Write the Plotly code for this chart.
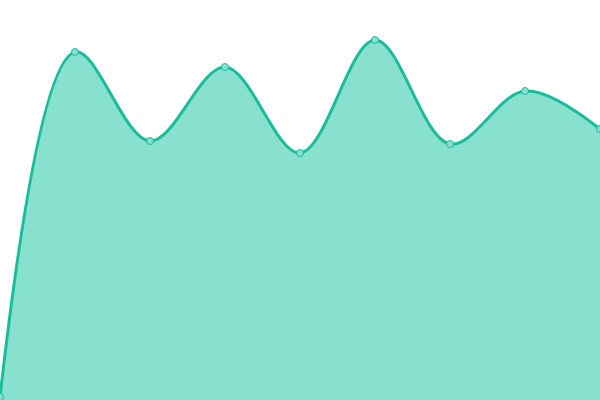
import plotly.graph_objects as go

x_vals = [0, 1, 2, 3, 4, 5, 6, 7, 8]
y_vals = [3, 348, 259, 333, 247, 360, 256, 309, 271]

fig = go.Figure()
fig.add_trace(go.Scatter(
    x=x_vals, y=y_vals,
    mode='lines+markers',
    line=dict(color='#1abc9c', width=3, shape='spline', smoothing=1.0),
    fill='tozeroy',
    fillcolor='#88e0cf',
    marker=dict(size=7, color='#88e0cf', line=dict(color='#1abc9c', width=1)),
    cliponaxis=False,
    hoverinfo='skip',
))

fig.update_layout(
    width=600, height=400,
    margin=dict(l=0, r=0, t=0, b=0, autoexpand=False),
    paper_bgcolor='white', plot_bgcolor='white',
    showlegend=False,
    xaxis=dict(visible=False, range=[0, 8]),
    yaxis=dict(visible=False, range=[0, 400]),
)

# page has default body margin; drop it so the plot sits flush
fig.write_html("out.html", config={'displayModeBar': False},
               post_script="document.body.style.margin='0';")
